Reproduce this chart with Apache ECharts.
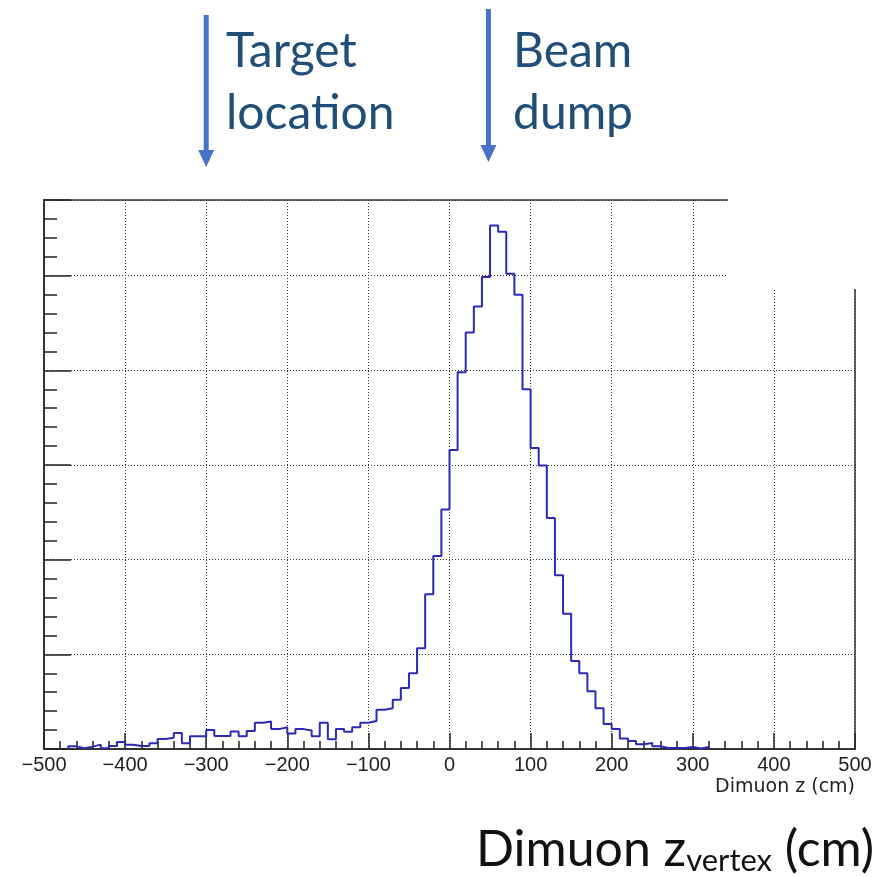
<!DOCTYPE html>
<html>
<head>
<meta charset="utf-8">
<script src="https://cdn.jsdelivr.net/npm/echarts@6/dist/echarts.min.js"></script>
<style>
    *{
        margin:0;
        padding:0;
    }
    body{background:#fff;}
</style>
</head>
<body>
<div id="main" style="width:888px;height:877px;"></div>
<script type="text/javascript">

// histogram: 10 cm bins starting at -470 cm
var binStart = -470;
var binWidth = 10;
var counts = [
    2.8, 0.7, 2.5, 4.6, 0.7, 3.2, 7.4, 4.6, 3.2, 3.2,
    6, 10.5, 12, 17, 6, 13.4, 13.4, 20, 13.7, 13.7,
    18.5, 13.4, 19, 27.8, 29, 21, 23, 16.5, 21, 19.5,
    13.4, 27.8, 10.2, 21, 18.3, 22.9, 27.8, 29.6, 41.5, 43,
    52, 64.4, 80, 106.5, 163.5, 204, 253, 316, 398, 440,
    467.5, 498.6, 553, 546.5, 502, 480, 380, 318, 299.5, 244,
    183.6, 143, 93, 80, 61, 43, 26.4, 21, 11, 8.5,
    5, 6.3, 3, 1, 1, 1, 2, 0.5, 2
];

var xTicks = [-500, 500, 100];      // min, max, step
var yTicks = [0, 580, 100];
var arrowAt = [-300, 48];           // cm
var notes = ['Target\nlocation', 'Beam\ndump'];
var axisTitle = 'Dimuon z (cm)';

var steps = [[binStart, 0]];
counts.forEach(function (c, i) {
    var lo = binStart + i * binWidth;
    steps.push([lo, c], [lo + binWidth, c]);
});
steps.push([binStart + counts.length * binWidth, 0]);

var myChart = echarts.init(document.getElementById('main'));

var tickStyle = {color: '#222', width: 1.5};

myChart.setOption({
    animation: false,
    backgroundColor: '#fff',
    grid: {
        left: 44, right: 33, top: 200, bottom: 128,
        show: true,
        borderColor: '#666',
        borderWidth: 2
    },
    xAxis: {
        type: 'value',
        min: xTicks[0], max: xTicks[1], interval: xTicks[2],
        axisLine: {onZero: false, lineStyle: {color: '#333', width: 2}},
        axisTick: {inside: true, length: 16, lineStyle: tickStyle},
        minorTick: {show: true, splitNumber: 5, length: 8, lineStyle: tickStyle},
        splitLine: {show: true, lineStyle: {color: '#333', width: 1, type: [1, 2]}},
        axisLabel: {
            fontFamily: 'Liberation Sans', fontSize: 20, color: '#222', margin: 6,
            formatter: function (v) { return String(v).replace('-', '\u2212'); }
        }
    },
    yAxis: {
        type: 'value',
        min: yTicks[0], max: yTicks[1], interval: yTicks[2],
        axisLine: {show: true, onZero: false, lineStyle: {color: '#333', width: 2}},
        axisTick: {show: true, inside: true, length: 27, lineStyle: tickStyle},
        minorTick: {show: true, splitNumber: 5, length: 13, lineStyle: tickStyle},
        splitLine: {show: true, lineStyle: {color: '#333', width: 1, type: [1, 2]}},
        axisLabel: {show: false}
    },
    series: [{
        type: 'line',
        data: steps,
        symbol: 'none',
        lineStyle: {color: '#2a2ab4', width: 2},
        z: 5
    }]
});

var gfx = [{
    // the original slide hides the top-right corner of the frame
    type: 'rect',
    shape: {x: 728, y: 186, width: 160, height: 103},
    style: {fill: '#fff'},
    z: 100
}];

var arrowTops = [15, 9];
var arrowEnds = [167, 162];
var noteX = [226, 513];
arrowAt.forEach(function (v, i) {
    var px = myChart.convertToPixel({xAxisIndex: 0}, v);
    gfx.push({
        type: 'line',
        shape: {x1: px, y1: arrowTops[i], x2: px, y2: arrowEnds[i] - 14},
        style: {stroke: '#4472c4', lineWidth: 5},
        z: 100
    }, {
        type: 'polygon',
        shape: {points: [[px - 8, arrowEnds[i] - 17], [px + 8, arrowEnds[i] - 17], [px, arrowEnds[i]]]},
        style: {fill: '#4472c4'},
        z: 100
    }, {
        type: 'text',
        x: noteX[i], y: 21,
        style: {
            text: notes[i],
            fontFamily: 'Lato', fontSize: 48, lineHeight: 62,
            fill: '#1f4e79'
        },
        z: 100
    });
});

gfx.push({
    type: 'text',
    x: 855, y: 778,
    style: {
        text: axisTitle,
        fontFamily: 'DejaVu Sans', fontSize: 19,
        fill: '#222', align: 'right'
    },
    z: 100
}, {
    type: 'text',
    x: 476, y: 821,
    style: {
        text: '{m|Dimuon z}{s|vertex}{m| (cm)}',
        rich: {
            m: {fontFamily: 'Lato', fontSize: 50, fill: '#111', lineHeight: 58},
            s: {fontFamily: 'Lato', fontSize: 31, fill: '#111', padding: [22, 0, 0, 0], lineHeight: 36}
        }
    },
    z: 100
});

myChart.setOption({graphic: gfx});
</script>
</body>
</html>
